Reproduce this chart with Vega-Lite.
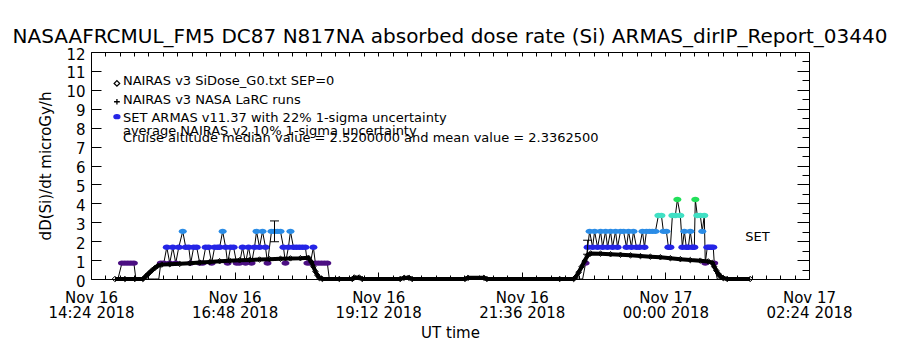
{
  "$schema": "https://vega.github.io/schema/vega-lite/v6.json",
  "width": 718,
  "height": 227,
  "autosize": {"type": "none"},
  "padding": {"left": 91, "top": 52, "right": 91, "bottom": 71},
  "background": "white",
  "title": {"text": "NASAAFRCMUL_FM5 DC87 N817NA absorbed dose rate (Si) ARMAS_dirIP_Report_03440", "font": "DejaVu Sans", "fontSize": 20, "fontWeight": "normal", "color": "black", "anchor": "middle", "offset": 0},
  "config": {
    "view": {"stroke": null},
    "font": "DejaVu Sans",
    "axis": {"domainColor": "black", "tickColor": "black", "labelColor": "black", "titleColor": "black", "labelFont": "DejaVu Sans", "titleFont": "DejaVu Sans", "titleFontWeight": "normal", "grid": false, "domainWidth": 1, "tickWidth": 1, "labelFontSize": 15, "titleFontSize": 15}
  },
  "resolve": {"axis": {"x": "independent", "y": "independent"}},
  "datasets": {
    "armas": [
      {"t": "2018-11-16T14:51Z", "v": 0},
      {"t": "2018-11-16T14:55Z", "v": 0.84},
      {"t": "2018-11-16T14:58Z", "v": 0.84},
      {"t": "2018-11-16T15:01Z", "v": 0.84},
      {"t": "2018-11-16T15:04Z", "v": 0.84},
      {"t": "2018-11-16T15:07Z", "v": 0.84},
      {"t": "2018-11-16T15:09Z", "v": 0},
      {"t": "2018-11-16T15:18Z", "v": 0},
      {"t": "2018-11-16T15:28Z", "v": 0},
      {"t": "2018-11-16T15:32Z", "v": 0},
      {"t": "2018-11-16T15:34Z", "v": 0.84},
      {"t": "2018-11-16T15:37Z", "v": 0.84},
      {"t": "2018-11-16T15:40Z", "v": 1.68},
      {"t": "2018-11-16T15:43Z", "v": 0.84},
      {"t": "2018-11-16T15:46Z", "v": 1.68},
      {"t": "2018-11-16T15:49Z", "v": 0.84},
      {"t": "2018-11-16T15:52Z", "v": 1.68},
      {"t": "2018-11-16T15:56Z", "v": 2.52},
      {"t": "2018-11-16T15:59Z", "v": 1.68},
      {"t": "2018-11-16T16:02Z", "v": 1.68},
      {"t": "2018-11-16T16:04Z", "v": 0.84},
      {"t": "2018-11-16T16:07Z", "v": 1.68},
      {"t": "2018-11-16T16:10Z", "v": 1.68},
      {"t": "2018-11-16T16:13Z", "v": 0.84},
      {"t": "2018-11-16T16:16Z", "v": 0.84},
      {"t": "2018-11-16T16:19Z", "v": 1.68},
      {"t": "2018-11-16T16:22Z", "v": 1.68},
      {"t": "2018-11-16T16:25Z", "v": 0.84},
      {"t": "2018-11-16T16:28Z", "v": 1.68},
      {"t": "2018-11-16T16:31Z", "v": 1.68},
      {"t": "2018-11-16T16:33Z", "v": 1.68},
      {"t": "2018-11-16T16:36Z", "v": 2.52},
      {"t": "2018-11-16T16:39Z", "v": 1.68},
      {"t": "2018-11-16T16:41Z", "v": 0.84},
      {"t": "2018-11-16T16:44Z", "v": 1.68},
      {"t": "2018-11-16T16:47Z", "v": 1.68},
      {"t": "2018-11-16T16:50Z", "v": 0.84},
      {"t": "2018-11-16T16:53Z", "v": 0.84},
      {"t": "2018-11-16T16:56Z", "v": 1.68},
      {"t": "2018-11-16T16:59Z", "v": 0.84},
      {"t": "2018-11-16T17:02Z", "v": 1.68},
      {"t": "2018-11-16T17:05Z", "v": 0.84},
      {"t": "2018-11-16T17:08Z", "v": 1.68},
      {"t": "2018-11-16T17:10Z", "v": 2.52},
      {"t": "2018-11-16T17:13Z", "v": 1.68},
      {"t": "2018-11-16T17:16Z", "v": 2.52},
      {"t": "2018-11-16T17:19Z", "v": 1.68},
      {"t": "2018-11-16T17:21Z", "v": 0.84},
      {"t": "2018-11-16T17:25Z", "v": 2.52},
      {"t": "2018-11-16T17:28Z", "v": 2.52},
      {"t": "2018-11-16T17:31Z", "v": 2.52},
      {"t": "2018-11-16T17:34Z", "v": 2.52},
      {"t": "2018-11-16T17:37Z", "v": 1.68},
      {"t": "2018-11-16T17:39Z", "v": 0.84},
      {"t": "2018-11-16T17:42Z", "v": 1.68},
      {"t": "2018-11-16T17:44Z", "v": 2.52},
      {"t": "2018-11-16T17:47Z", "v": 1.68},
      {"t": "2018-11-16T17:50Z", "v": 1.68},
      {"t": "2018-11-16T17:53Z", "v": 1.68},
      {"t": "2018-11-16T17:56Z", "v": 1.68},
      {"t": "2018-11-16T17:59Z", "v": 1.68},
      {"t": "2018-11-16T18:01Z", "v": 0.84},
      {"t": "2018-11-16T18:04Z", "v": 0.84},
      {"t": "2018-11-16T18:07Z", "v": 1.68},
      {"t": "2018-11-16T18:09Z", "v": 0.84},
      {"t": "2018-11-16T18:12Z", "v": 0.84},
      {"t": "2018-11-16T18:15Z", "v": 0.84},
      {"t": "2018-11-16T18:18Z", "v": 0.84},
      {"t": "2018-11-16T18:21Z", "v": 0.84},
      {"t": "2018-11-16T18:23Z", "v": 0},
      {"t": "2018-11-16T18:29Z", "v": 0},
      {"t": "2018-11-16T22:25Z", "v": 0},
      {"t": "2018-11-16T22:33Z", "v": 0},
      {"t": "2018-11-16T22:37Z", "v": 0},
      {"t": "2018-11-16T22:40Z", "v": 0.84},
      {"t": "2018-11-16T22:42Z", "v": 1.68},
      {"t": "2018-11-16T22:44Z", "v": 2.52},
      {"t": "2018-11-16T22:47Z", "v": 1.68},
      {"t": "2018-11-16T22:49Z", "v": 2.52},
      {"t": "2018-11-16T22:52Z", "v": 1.68},
      {"t": "2018-11-16T22:55Z", "v": 2.52},
      {"t": "2018-11-16T22:57Z", "v": 1.68},
      {"t": "2018-11-16T23:00Z", "v": 2.52},
      {"t": "2018-11-16T23:02Z", "v": 1.68},
      {"t": "2018-11-16T23:05Z", "v": 2.52},
      {"t": "2018-11-16T23:07Z", "v": 1.68},
      {"t": "2018-11-16T23:10Z", "v": 2.52},
      {"t": "2018-11-16T23:12Z", "v": 1.68},
      {"t": "2018-11-16T23:15Z", "v": 2.52},
      {"t": "2018-11-16T23:18Z", "v": 2.52},
      {"t": "2018-11-16T23:21Z", "v": 1.68},
      {"t": "2018-11-16T23:23Z", "v": 2.52},
      {"t": "2018-11-16T23:26Z", "v": 1.68},
      {"t": "2018-11-16T23:28Z", "v": 2.52},
      {"t": "2018-11-16T23:31Z", "v": 1.68},
      {"t": "2018-11-16T23:34Z", "v": 1.68},
      {"t": "2018-11-16T23:37Z", "v": 2.52},
      {"t": "2018-11-16T23:39Z", "v": 1.68},
      {"t": "2018-11-16T23:41Z", "v": 2.52},
      {"t": "2018-11-16T23:44Z", "v": 2.52},
      {"t": "2018-11-16T23:47Z", "v": 2.52},
      {"t": "2018-11-16T23:50Z", "v": 2.52},
      {"t": "2018-11-16T23:53Z", "v": 3.36},
      {"t": "2018-11-16T23:56Z", "v": 3.36},
      {"t": "2018-11-16T23:58Z", "v": 2.52},
      {"t": "2018-11-17T00:01Z", "v": 2.52},
      {"t": "2018-11-17T00:03Z", "v": 1.68},
      {"t": "2018-11-17T00:05Z", "v": 1.68},
      {"t": "2018-11-17T00:07Z", "v": 3.36},
      {"t": "2018-11-17T00:10Z", "v": 3.36},
      {"t": "2018-11-17T00:12Z", "v": 4.2},
      {"t": "2018-11-17T00:15Z", "v": 3.36},
      {"t": "2018-11-17T00:17Z", "v": 1.68},
      {"t": "2018-11-17T00:19Z", "v": 2.52},
      {"t": "2018-11-17T00:21Z", "v": 1.68},
      {"t": "2018-11-17T00:23Z", "v": 1.68},
      {"t": "2018-11-17T00:25Z", "v": 2.52},
      {"t": "2018-11-17T00:27Z", "v": 1.68},
      {"t": "2018-11-17T00:29Z", "v": 1.68},
      {"t": "2018-11-17T00:30Z", "v": 4.2},
      {"t": "2018-11-17T00:32Z", "v": 3.36},
      {"t": "2018-11-17T00:35Z", "v": 3.36},
      {"t": "2018-11-17T00:37Z", "v": 2.52},
      {"t": "2018-11-17T00:39Z", "v": 3.36},
      {"t": "2018-11-17T00:40Z", "v": 0.84},
      {"t": "2018-11-17T00:42Z", "v": 1.68},
      {"t": "2018-11-17T00:44Z", "v": 1.68},
      {"t": "2018-11-17T00:46Z", "v": 1.68},
      {"t": "2018-11-17T00:48Z", "v": 1.68},
      {"t": "2018-11-17T00:49Z", "v": 0.84},
      {"t": "2018-11-17T00:52Z", "v": 0},
      {"t": "2018-11-17T01:00Z", "v": 0},
      {"t": "2018-11-17T01:15Z", "v": 0}
    ],
    "nairas": [
      {"t": "2018-11-16T14:48Z", "v": 0},
      {"t": "2018-11-16T14:58Z", "v": 0},
      {"t": "2018-11-16T15:08Z", "v": 0},
      {"t": "2018-11-16T15:16Z", "v": 0},
      {"t": "2018-11-16T15:19Z", "v": 0.15},
      {"t": "2018-11-16T15:22Z", "v": 0.3},
      {"t": "2018-11-16T15:25Z", "v": 0.45},
      {"t": "2018-11-16T15:28Z", "v": 0.58},
      {"t": "2018-11-16T15:31Z", "v": 0.7},
      {"t": "2018-11-16T15:35Z", "v": 0.76},
      {"t": "2018-11-16T15:43Z", "v": 0.78},
      {"t": "2018-11-16T15:53Z", "v": 0.8},
      {"t": "2018-11-16T16:03Z", "v": 0.83},
      {"t": "2018-11-16T16:13Z", "v": 0.87},
      {"t": "2018-11-16T16:23Z", "v": 0.9},
      {"t": "2018-11-16T16:33Z", "v": 0.94},
      {"t": "2018-11-16T16:43Z", "v": 0.97},
      {"t": "2018-11-16T16:53Z", "v": 0.99},
      {"t": "2018-11-16T17:03Z", "v": 1.01},
      {"t": "2018-11-16T17:13Z", "v": 1.03},
      {"t": "2018-11-16T17:23Z", "v": 1.05},
      {"t": "2018-11-16T17:34Z", "v": 1.07},
      {"t": "2018-11-16T17:44Z", "v": 1.09},
      {"t": "2018-11-16T17:54Z", "v": 1.1},
      {"t": "2018-11-16T18:02Z", "v": 1.12},
      {"t": "2018-11-16T18:05Z", "v": 0.9},
      {"t": "2018-11-16T18:07Z", "v": 0.65},
      {"t": "2018-11-16T18:09Z", "v": 0.4},
      {"t": "2018-11-16T18:11Z", "v": 0.2},
      {"t": "2018-11-16T18:13Z", "v": 0.05},
      {"t": "2018-11-16T18:16Z", "v": 0},
      {"t": "2018-11-16T18:33Z", "v": 0},
      {"t": "2018-11-16T18:46Z", "v": 0},
      {"t": "2018-11-16T18:48Z", "v": 0.08},
      {"t": "2018-11-16T18:53Z", "v": 0.08},
      {"t": "2018-11-16T18:56Z", "v": 0},
      {"t": "2018-11-16T19:34Z", "v": 0},
      {"t": "2018-11-16T19:38Z", "v": 0.06},
      {"t": "2018-11-16T19:43Z", "v": 0.06},
      {"t": "2018-11-16T19:46Z", "v": 0},
      {"t": "2018-11-16T20:39Z", "v": 0},
      {"t": "2018-11-16T20:42Z", "v": 0.06},
      {"t": "2018-11-16T20:58Z", "v": 0.06},
      {"t": "2018-11-16T21:01Z", "v": 0},
      {"t": "2018-11-16T22:14Z", "v": 0},
      {"t": "2018-11-16T22:28Z", "v": 0},
      {"t": "2018-11-16T22:30Z", "v": 0.1},
      {"t": "2018-11-16T22:33Z", "v": 0.35},
      {"t": "2018-11-16T22:36Z", "v": 0.65},
      {"t": "2018-11-16T22:39Z", "v": 0.95},
      {"t": "2018-11-16T22:42Z", "v": 1.25},
      {"t": "2018-11-16T22:45Z", "v": 1.35},
      {"t": "2018-11-16T22:55Z", "v": 1.34},
      {"t": "2018-11-16T23:05Z", "v": 1.31},
      {"t": "2018-11-16T23:15Z", "v": 1.28},
      {"t": "2018-11-16T23:25Z", "v": 1.25},
      {"t": "2018-11-16T23:35Z", "v": 1.21},
      {"t": "2018-11-16T23:45Z", "v": 1.18},
      {"t": "2018-11-16T23:55Z", "v": 1.15},
      {"t": "2018-11-17T00:05Z", "v": 1.1},
      {"t": "2018-11-17T00:15Z", "v": 1.05},
      {"t": "2018-11-17T00:25Z", "v": 1.0},
      {"t": "2018-11-17T00:35Z", "v": 0.97},
      {"t": "2018-11-17T00:43Z", "v": 0.93},
      {"t": "2018-11-17T00:47Z", "v": 0.85},
      {"t": "2018-11-17T00:49Z", "v": 0.65},
      {"t": "2018-11-17T00:51Z", "v": 0.45},
      {"t": "2018-11-17T00:53Z", "v": 0.28},
      {"t": "2018-11-17T00:55Z", "v": 0.15},
      {"t": "2018-11-17T00:58Z", "v": 0.05},
      {"t": "2018-11-17T01:02Z", "v": 0},
      {"t": "2018-11-17T01:25Z", "v": 0}
    ],
    "errs": [
      {"t": "2018-11-16T17:28Z", "lo": 1.97, "hi": 3.07},
      {"t": "2018-11-16T22:42Z", "lo": 1.31, "hi": 2.05}
    ],
    "legend": [
      {"t": "2018-11-16T14:56Z", "v": 10.45, "label": "NAIRAS v3 SiDose_G0.txt SEP=0"},
      {"t": "2018-11-16T14:56Z", "v": 9.46, "label": "NAIRAS v3 NASA LaRC runs"},
      {"t": "2018-11-16T14:56Z", "v": 8.5, "label": "SET ARMAS v11.37 with 22% 1-sigma uncertainty"},
      {"t": "2018-11-16T14:56Z", "v": 7.85, "label": "average NAIRAS v2 10% 1-sigma uncertainty"},
      {"t": "2018-11-16T14:56Z", "v": 7.45, "label": "Cruise altitude median value = 2.5200000 and mean value = 2.3362500"},
      {"t": "2018-11-17T01:20Z", "v": 2.24, "label": "SET"}
    ],
    "legsym": [
      {"t": "2018-11-16T14:50Z", "v": 10.34, "series": "diamond"},
      {"t": "2018-11-16T14:50Z", "v": 9.37, "series": "plus"},
      {"t": "2018-11-16T14:50Z", "v": 8.58, "series": "armas"}
    ]
  },
  "layer": [
    {
      "data": {"name": "armas"},
      "mark": {"type": "line", "color": "black", "strokeWidth": 1, "interpolate": "linear"},
      "encoding": {
        "x": {"field": "t", "type": "temporal", "scale": {"type": "utc", "domain": [1542378240000, 1542421440000]},
          "axis": {"orient": "bottom", "title": "UT time", "titlePadding": 5, "labelOverlap": false, "labelFlush": false, "labelBound": false, "labelPadding": 18, "labelLineHeight": 15, "labelBaseline": "top",
            "values": [1542378240000,1542379104000,1542379968000,1542380832000,1542381696000,1542382560000,1542383424000,1542384288000,1542385152000,1542386016000,1542386880000,1542387744000,1542388608000,1542389472000,1542390336000,1542391200000,1542392064000,1542392928000,1542393792000,1542394656000,1542395520000,1542396384000,1542397248000,1542398112000,1542398976000,1542399840000,1542400704000,1542401568000,1542402432000,1542403296000,1542404160000,1542405024000,1542405888000,1542406752000,1542407616000,1542408480000,1542409344000,1542410208000,1542411072000,1542411936000,1542412800000,1542413664000,1542414528000,1542415392000,1542416256000,1542417120000,1542417984000,1542418848000,1542419712000,1542420576000,1542421440000],
            "labelExpr": "(datum.value - 1542378240000) % 8640000 == 0 ? [utcFormat(datum.value, '%b %d'), utcFormat(datum.value, '%H:%M %Y')] : ''",
            "tickSize": {"condition": {"test": "(datum.value - 1542378240000) % 8640000 == 0", "value": -7}, "value": -4}}},
        "y": {"field": "v", "type": "quantitative", "scale": {"domain": [0, 12], "nice": false, "zero": false},
          "axis": {"orient": "left", "title": "dD(Si)/dt microGy/h", "values": [0,1,2,3,4,5,6,7,8,9,10,11,12], "tickSize": -10, "labelPadding": 16, "labelOffset": 2, "titlePadding": 12}}
      }
    },
    {
      "data": {"name": "armas"},
      "transform": [{"filter": "datum.v > 0"}],
      "mark": {"type": "point", "filled": true, "opacity": 1, "size": 64, "shape": "M-1,0C-1,-0.9,1,-0.9,1,0C1,0.9,-1,0.9,-1,0Z"},
      "encoding": {
        "x": {"field": "t", "type": "temporal", "scale": {"type": "utc", "domain": [1542378240000, 1542421440000]}, "axis": null},
        "y": {"field": "v", "type": "quantitative", "scale": {"domain": [0, 12], "nice": false, "zero": false}, "axis": null},
        "color": {"field": "v", "type": "ordinal", "legend": null, "scale": {"domain": [0, 0.84, 1.68, 2.52, 3.36, 4.2], "range": ["#000000", "#4b0f82", "#2424e6", "#2a8ce6", "#40e0c4", "#22e05a"]}}
      }
    },
    {
      "data": {"name": "errs"},
      "mark": {"type": "rule", "color": "black", "strokeWidth": 1},
      "encoding": {
        "x": {"field": "t", "type": "temporal", "scale": {"type": "utc", "domain": [1542378240000, 1542421440000]}, "axis": null},
        "y": {"field": "lo", "type": "quantitative", "scale": {"domain": [0, 12], "nice": false, "zero": false}, "axis": null},
        "y2": {"field": "hi"}
      }
    },
    {
      "data": {"name": "errs"},
      "mark": {"type": "tick", "color": "black", "orient": "horizontal", "size": 9, "thickness": 1, "opacity": 1},
      "encoding": {
        "x": {"field": "t", "type": "temporal", "scale": {"type": "utc", "domain": [1542378240000, 1542421440000]}, "axis": null},
        "y": {"field": "hi", "type": "quantitative", "scale": {"domain": [0, 12], "nice": false, "zero": false}, "axis": null}
      }
    },
    {
      "data": {"name": "errs"},
      "mark": {"type": "tick", "color": "black", "orient": "horizontal", "size": 9, "thickness": 1, "opacity": 1},
      "encoding": {
        "x": {"field": "t", "type": "temporal", "scale": {"type": "utc", "domain": [1542378240000, 1542421440000]}, "axis": null},
        "y": {"field": "lo", "type": "quantitative", "scale": {"domain": [0, 12], "nice": false, "zero": false}, "axis": null}
      }
    },
    {
      "data": {"name": "nairas"},
      "mark": {"type": "line", "color": "black", "strokeWidth": 4},
      "encoding": {
        "x": {"field": "t", "type": "temporal", "scale": {"type": "utc", "domain": [1542378240000, 1542421440000]},
          "axis": {"orient": "top", "title": null, "labels": false, "tickSize": -4,
            "values": [1542378240000,1542379104000,1542379968000,1542380832000,1542381696000,1542382560000,1542383424000,1542384288000,1542385152000,1542386016000,1542386880000,1542387744000,1542388608000,1542389472000,1542390336000,1542391200000,1542392064000,1542392928000,1542393792000,1542394656000,1542395520000,1542396384000,1542397248000,1542398112000,1542398976000,1542399840000,1542400704000,1542401568000,1542402432000,1542403296000,1542404160000,1542405024000,1542405888000,1542406752000,1542407616000,1542408480000,1542409344000,1542410208000,1542411072000,1542411936000,1542412800000,1542413664000,1542414528000,1542415392000,1542416256000,1542417120000,1542417984000,1542418848000,1542419712000,1542420576000,1542421440000]}},
        "y": {"field": "v", "type": "quantitative", "scale": {"domain": [0, 12], "nice": false, "zero": false},
          "axis": {"orient": "right", "title": null, "labels": false, "values": [0,0.5,1,1.5,2,2.5,3,3.5,4,4.5,5,5.5,6,6.5,7,7.5,8,8.5,9,9.5,10,10.5,11,11.5,12],
            "tickSize": {"condition": {"test": "datum.value % 1 == 0", "value": -12}, "value": -7}}}
      }
    },
    {
      "data": {"name": "nairas"},
      "mark": {"type": "point", "shape": "diamond", "filled": false, "color": "black", "size": 30, "strokeWidth": 1, "opacity": 1},
      "encoding": {
        "x": {"field": "t", "type": "temporal", "scale": {"type": "utc", "domain": [1542378240000, 1542421440000]}, "axis": null},
        "y": {"field": "v", "type": "quantitative", "scale": {"domain": [0, 12], "nice": false, "zero": false}, "axis": null}
      }
    },
    {
      "data": {"name": "legsym"},
      "mark": {"type": "point", "opacity": 1, "strokeWidth": 1.3},
      "encoding": {
        "x": {"field": "t", "type": "temporal", "scale": {"type": "utc", "domain": [1542378240000, 1542421440000]}, "axis": null},
        "y": {"field": "v", "type": "quantitative", "scale": {"domain": [0, 12], "nice": false, "zero": false}, "axis": null},
        "shape": {"field": "series", "type": "nominal", "legend": null, "scale": {"domain": ["diamond", "plus", "armas"], "range": ["diamond", "M-1,0H1M0,-1V1", "M-1,0C-1,-0.9,1,-0.9,1,0C1,0.9,-1,0.9,-1,0Z"]}},
        "fill": {"field": "series", "type": "nominal", "legend": null, "scale": {"domain": ["diamond", "plus", "armas"], "range": ["transparent", "transparent", "#2424e6"]}},
        "stroke": {"field": "series", "type": "nominal", "legend": null, "scale": {"domain": ["diamond", "plus", "armas"], "range": ["#000000", "#000000", "#2424e6"]}},
        "size": {"field": "series", "type": "nominal", "legend": null, "scale": {"domain": ["diamond", "plus", "armas"], "range": [30, 36, 49]}}
      }
    },
    {
      "data": {"name": "legend"},
      "mark": {"type": "text", "align": "left", "baseline": "middle", "font": "DejaVu Sans", "fontSize": 13, "color": "black"},
      "encoding": {
        "x": {"field": "t", "type": "temporal", "scale": {"type": "utc", "domain": [1542378240000, 1542421440000]}, "axis": null},
        "y": {"field": "v", "type": "quantitative", "scale": {"domain": [0, 12], "nice": false, "zero": false}, "axis": null},
        "text": {"field": "label"}
      }
    }
  ]
}
